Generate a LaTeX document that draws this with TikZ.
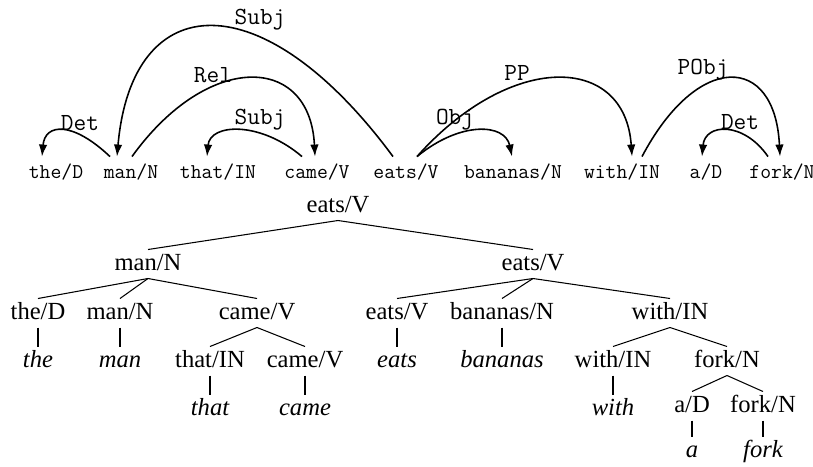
\documentclass[tikz,border=0pt]{standalone}
\usepackage{fontspec}
\setmainfont{Liberation Serif}
\usetikzlibrary{arrows.meta,positioning}

\begin{document}
\begin{tikzpicture}[
            word/.style = {
                font = \ttfamily\fontsize{12}{14}\selectfont,
                anchor = base,
                text height = 8pt,
                text depth = 2pt,
                inner xsep = 0pt,
                inner ysep = 4pt},
            deplabel/.style = {
                font = \ttfamily\fontsize{14}{16}\selectfont,
                inner sep = 0pt},
            deparc/.style = {
                draw,
                line width = 0.9pt,
                -{Latex[length=2.4mm, width=1.7mm]}},
            tag/.style = {
                font = \fontsize{14}{16}\selectfont,
                text height = 9.6pt,
                text depth = 2.5pt,
                inner sep = 2pt},
            leaf/.style = {
                tag,
                font = \itshape\fontsize{14}{16}\selectfont},
            branch/.style = {
                draw,
                line width = 0.6pt},
            node distance = 0.39cm]
        \useasboundingbox (0,0) rectangle (16.26,-9.32);

        % Place words
        \node [word] (the) at (1.12,-3.56) {the/D};
        \node [word] (man) at (2.62,-3.56) {man/N};
        \node [word] (that) at (4.36,-3.56) {that/IN};
        \node [word] (came) at (6.34,-3.56) {came/V};
        \node [word] (eats) at (8.12,-3.56) {eats/V};
        \node [word] (bananas) at (10.26,-3.56) {bananas/N};
        \node [word] (with) at (12.44,-3.56) {with/IN};
        \node [word] (a) at (14.12,-3.56) {a/D};
        \node [word] (fork) at (15.64,-3.56) {fork/N};

        % Place arc labels
        \node [deplabel] (detA) at (1.6,-2.46) {Det};
        \node [deplabel] (subjA) at (5.2,-0.4) {Subj};
        \node [deplabel] (relA) at (4.26,-1.5) {Rel};
        \node [deplabel] (subjB) at (5.2,-2.4) {Subj};
        \node [deplabel] (objA) at (9.1,-2.4) {Obj};
        \node [deplabel] (ppA) at (10.34,-1.46) {PP};
        \node [deplabel] (pobjA) at (14.06,-1.4) {PObj};
        \node [deplabel] (detB) at (14.8,-2.44) {Det};

        % Draw arcs
        \path [deparc] ([xshift=-4.2mm]man.north) .. controls +(-0.75,0.71) and +(0.06,0.67) .. ([xshift=-2.8mm]the.north);
        \path [deparc] ([xshift=-2.6mm]eats.north) .. controls +(-2.6,3.52) and +(0.3,3.4) .. ([xshift=-2.8mm]man.north);
        \path [deparc] ([xshift=0.2mm]man.north) .. controls +(1.51,2.1) and +(-0.1,2.06) .. ([xshift=-0.4mm]came.north);
        \path [deparc] ([xshift=-3mm]came.north) .. controls +(-0.83,0.71) and +(0.06,0.67) .. ([xshift=-2.2mm]that.north);
        \path [deparc] ([xshift=2.2mm]eats.north) .. controls +(0.86,0.71) and +(-0.14,0.67) .. ([xshift=-0.2mm]bananas.north);
        \path [deparc] ([xshift=2.2mm]eats.north) .. controls +(1.87,2.1) and +(-0.14,2.06) .. ([xshift=2mm]with.north);
        \path [deparc] ([xshift=4mm]with.north) .. controls +(1.11,2.1) and +(-0.1,2.06) .. ([xshift=-0.4mm]fork.north);
        \path [deparc] ([xshift=-2.8mm]fork.north) .. controls +(-0.49,0.71) and +(0.06,0.67) .. ([xshift=-0.8mm]a.north);

        % Place tree nodes
        \node [tag] (root) at (6.76,-4.12) {eats/V};
        \node [tag] (manP) at (2.96,-5.28) {man/N};
        \node [tag] (eatsP) at (10.66,-5.28) {eats/V};
        \node [tag] (theD) at (0.76,-6.26) {the/D};
        \node [tag] (manN) at (2.4,-6.26) {man/N};
        \node [tag] (cameP) at (5.14,-6.26) {came/V};
        \node [tag] (eatsV) at (7.94,-6.26) {eats/V};
        \node [tag] (bananasN) at (10.04,-6.26) {bananas/N};
        \node [tag] (withP) at (13.4,-6.26) {with/IN};
        \node [tag] (thatIN) at (4.2,-7.22) {that/IN};
        \node [tag] (cameV) at (6.1,-7.22) {came/V};
        \node [tag] (withIN) at (12.26,-7.22) {with/IN};
        \node [tag] (forkP) at (14.54,-7.22) {fork/N};
        \node [tag] (aD) at (13.84,-8.12) {a/D};
        \node [tag] (forkN) at (15.26,-8.12) {fork/N};

        % Place leaves
        \node [leaf, below=of theD] (theW) {the};
        \node [leaf, below=of manN] (manW) {man};
        \node [leaf, below=of eatsV] (eatsW) {eats};
        \node [leaf, below=of bananasN] (bananasW) {bananas};
        \node [leaf, below=of thatIN] (thatW) {that};
        \node [leaf, below=of cameV] (cameW) {came};
        \node [leaf, below=of withIN] (withW) {with};
        \node [leaf, below=0.33cm of aD] (aW) {a};
        \node [leaf, below=0.33cm of forkN] (forkW) {fork};

        % Draw branches
        \path [branch] (root.south) -- (manP.north);
        \path [branch] (root.south) -- (eatsP.north);
        \path [branch] (manP.south) -- (theD.north);
        \path [branch] (manP.south) -- (manN.north);
        \path [branch] (manP.south) -- (cameP.north);
        \path [branch] (eatsP.south) -- (eatsV.north);
        \path [branch] (eatsP.south) -- (bananasN.north);
        \path [branch] (eatsP.south) -- (withP.north);
        \path [branch] (cameP.south) -- (thatIN.north);
        \path [branch] (cameP.south) -- (cameV.north);
        \path [branch] (withP.south) -- (withIN.north);
        \path [branch] (withP.south) -- (forkP.north);
        \path [branch] (forkP.south) -- (aD.north);
        \path [branch] (forkP.south) -- (forkN.north);
        \path [branch] (theD.south) -- (theW.north);
        \path [branch] (manN.south) -- (manW.north);
        \path [branch] (eatsV.south) -- (eatsW.north);
        \path [branch] (bananasN.south) -- (bananasW.north);
        \path [branch] (thatIN.south) -- (thatW.north);
        \path [branch] (cameV.south) -- (cameW.north);
        \path [branch] (withIN.south) -- (withW.north);
        \path [branch] (aD.south) -- (aW.north);
        \path [branch] (forkN.south) -- (forkW.north);
    \end{tikzpicture}
\end{document}
